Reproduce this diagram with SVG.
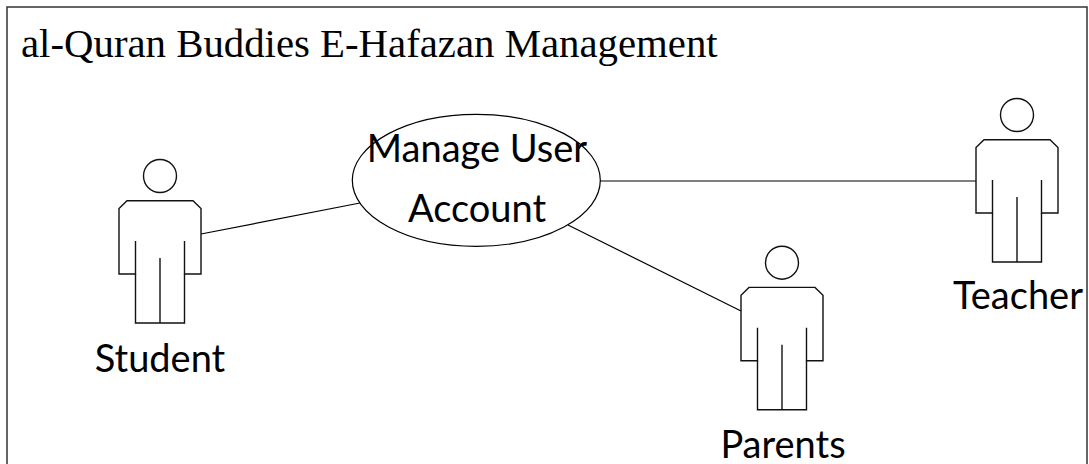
<svg xmlns="http://www.w3.org/2000/svg" width="1089" height="464" viewBox="0 0 1089 464">
<style>
.s{fill:none;stroke:#000;stroke-width:1.2}
.b{fill:none;stroke:#111;stroke-width:1.4}
.l{font-family:"Lato","Carlito","Liberation Sans",sans-serif;font-size:38px;fill:#000;text-anchor:middle}
.t{font-family:"Liberation Serif",serif;font-size:40.800px;fill:#000}
</style>
<defs>
<g id="actor">
<circle class="b" cx="0" cy="0" r="16.500"/>
<path class="b" d="M-24.500 65V98H-41V32.500L-33 24.700H33L41 32.500V98H24.500V65"/>
<path class="b" d="M-24.500 98V147H24.500V98"/>
<path class="b" d="M0 82V147"/>
</g>
</defs>
<rect width="1089" height="464" fill="#fff"/>
<g id="boundary">
<rect x="7" y="7" width="1080" height="470" fill="none" stroke="#333" stroke-width="1.500"/>
<text class="t" x="21" y="57">al-Quran Buddies E-Hafazan Management</text>
</g>
<g id="connectors">
<path class="s" d="M201 234L360 203"/>
<path class="s" d="M600 181H976"/>
<path class="s" d="M568 225L741 311"/>
</g>
<g id="usecase">
<ellipse class="s" cx="476.300" cy="180.300" rx="124" ry="66"/>
<text class="l" x="477" y="162">Manage User</text>
<text class="l" x="477" y="222">Account</text>
</g>
<g id="student">
<use href="#actor" x="160" y="176"/>
<text class="l" x="160" y="372">Student</text>
</g>
<g id="teacher">
<use href="#actor" x="1017" y="115"/>
<text class="l" x="1018" y="309">Teacher</text>
</g>
<g id="parents">
<use href="#actor" x="782" y="262.700"/>
<text class="l" x="783" y="458">Parents</text>
</g>
</svg>
